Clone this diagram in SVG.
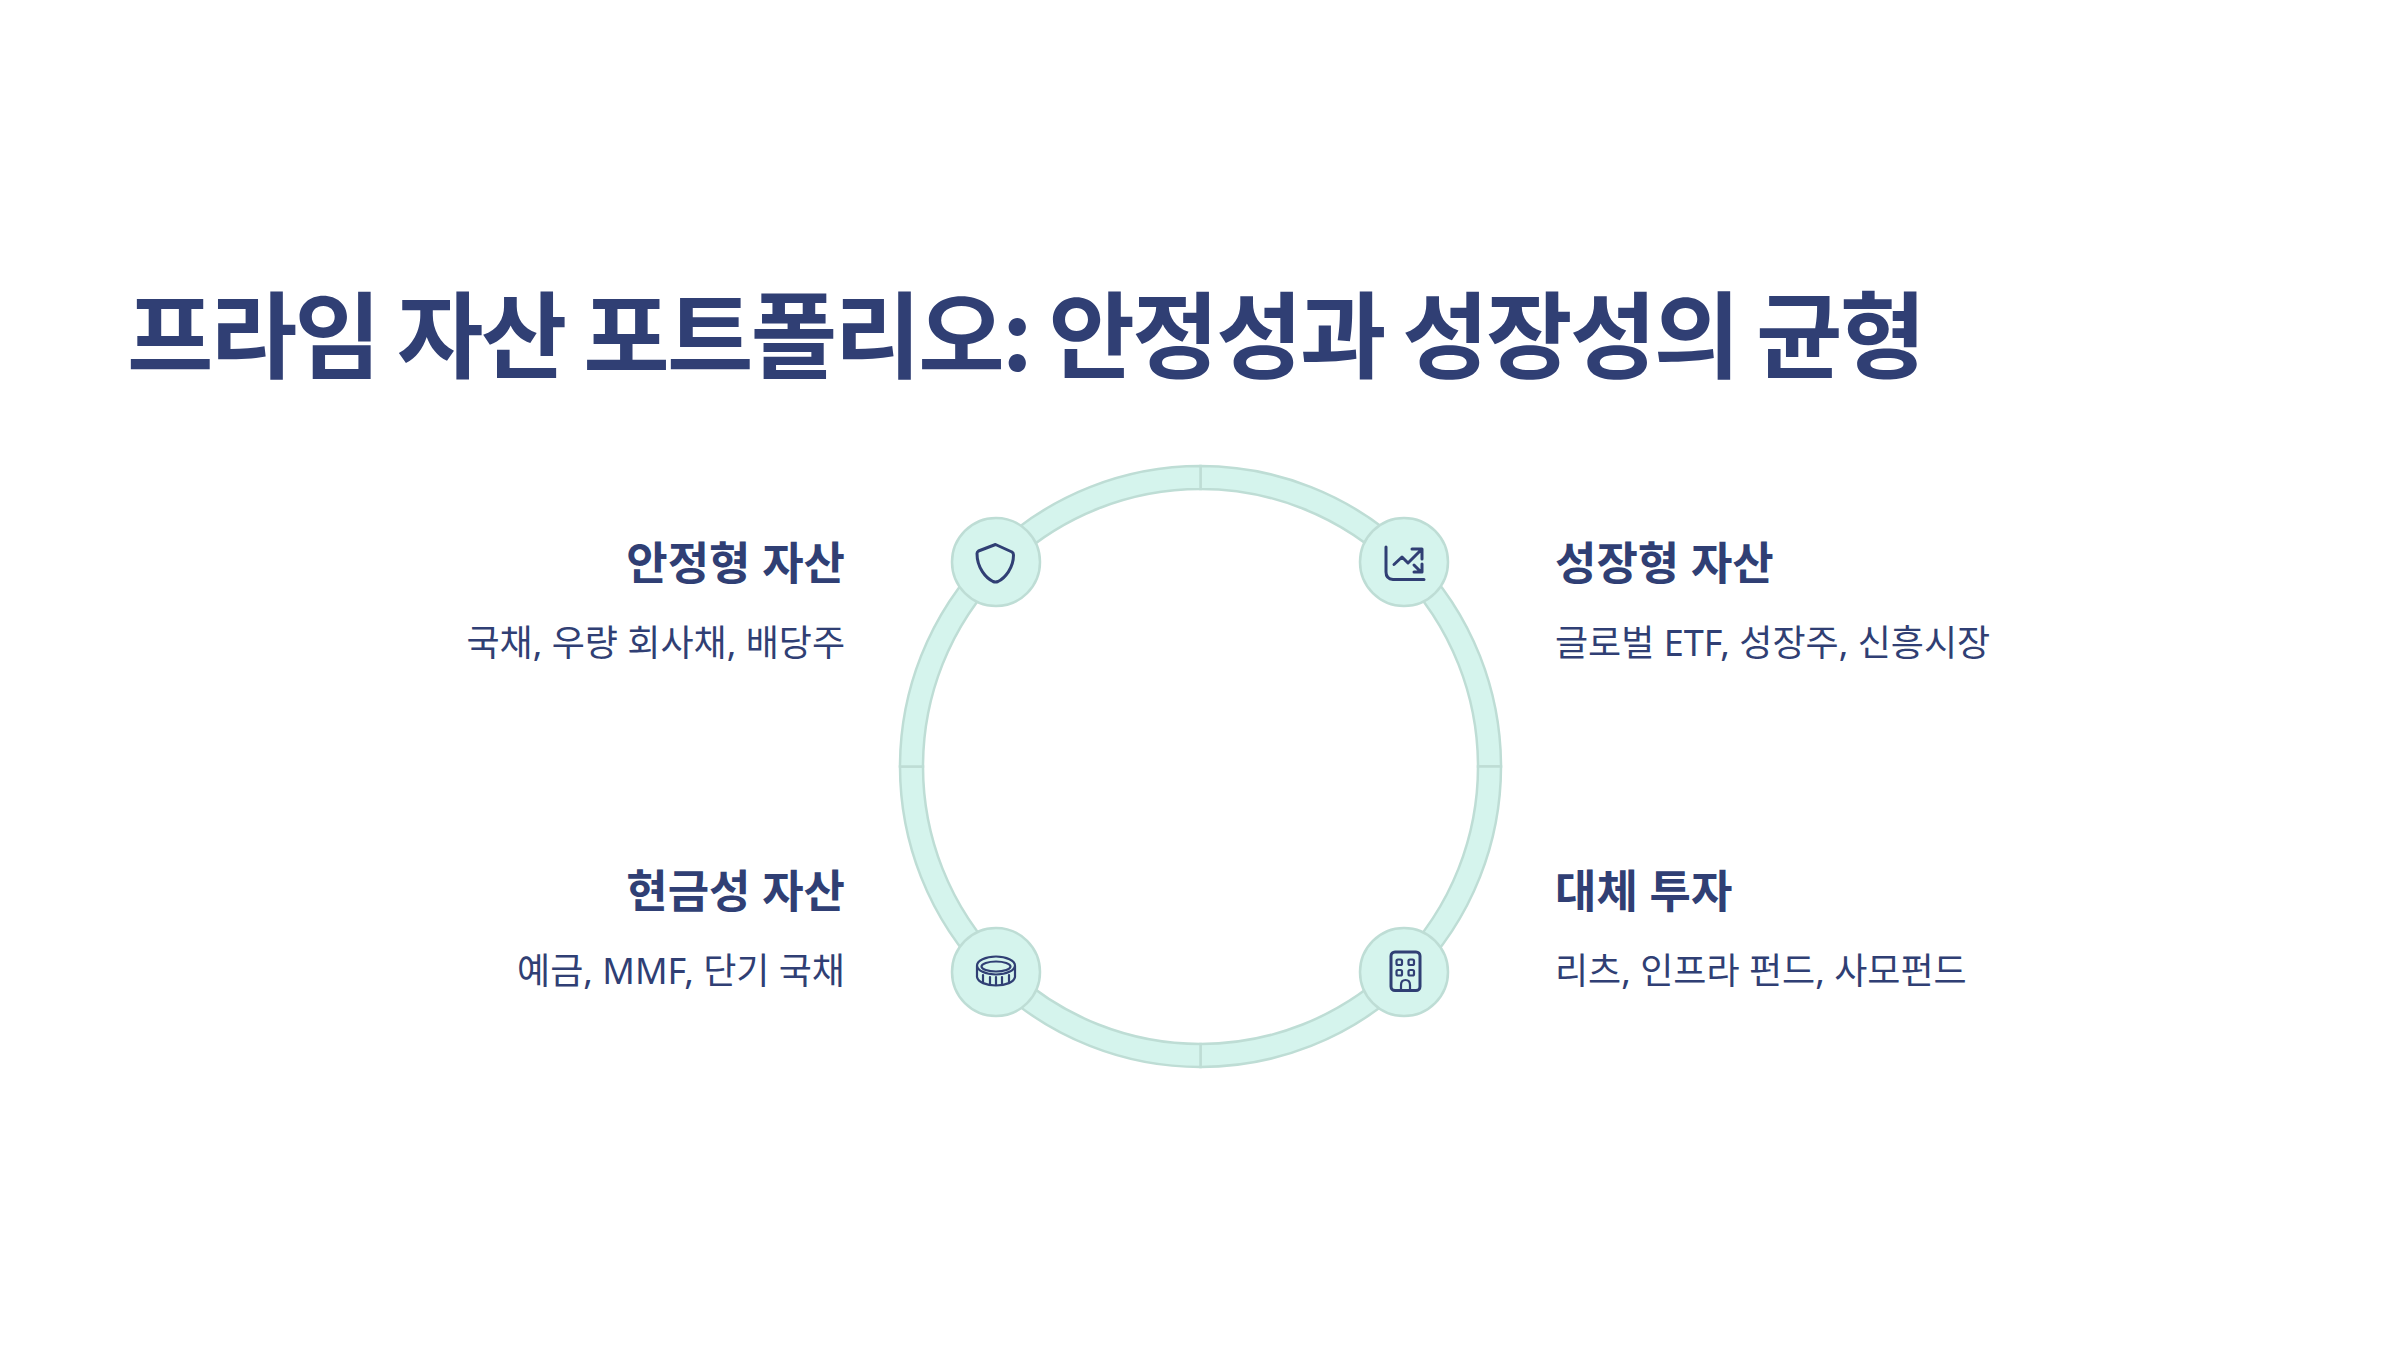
<svg xmlns="http://www.w3.org/2000/svg" width="2400" height="1350" viewBox="0 0 2400 1350">
<style>
text{font-family:"Noto Sans","Noto Sans CJK KR",sans-serif;fill:#303F74}
.t{font-family:"Noto Sans CJK KR",sans-serif;font-size:94px;font-weight:700;letter-spacing:-2.700px}
.h{font-size:45px;font-weight:700}
.s{font-size:36px;font-weight:400}
.e{text-anchor:end}
.seg{fill:#D5F4ED;stroke:#BEDDD5;stroke-width:2.500}
.n{fill:#D5F4ED;stroke:#BEDDD5;stroke-width:2.500}
.i{fill:none;stroke:#303F74;stroke-width:3;stroke-linecap:round;stroke-linejoin:round}
.c{fill:none;stroke:#303F74;stroke-width:2.200;stroke-linecap:round;stroke-linejoin:round}
</style>
<rect width="2400" height="1350" fill="#fff"/>
<text class="t" x="127" y="371">프라임 자산 포트폴리오: 안정성과 성장성의 균형</text>
<g id="ring">
<path class="seg" d="M1200.5 466A300.500 300.500 0 0 1 1501 766.500H1478A277.500 277.500 0 0 0 1200.500 489Z"/>
<path class="seg" d="M1501 766.500A300.500 300.500 0 0 1 1200.500 1067V1044A277.500 277.500 0 0 0 1478 766.500Z"/>
<path class="seg" d="M1200.500 1067A300.500 300.500 0 0 1 900 766.500H923A277.500 277.500 0 0 0 1200.500 1044Z"/>
<path class="seg" d="M900 766.500A300.500 300.500 0 0 1 1200.500 466V489A277.500 277.500 0 0 0 923 766.500Z"/>
</g>
<g id="node-stable">
<circle class="n" cx="996" cy="562" r="44"/>
<path class="i" d="M995.500 544.500L1012 552Q1013.500 553 1013.500 555C1013.500 568 1005 578 998 581.500Q995.500 582.500 993 581.500C986 578 977 568 977 553.500Q977 552 978.500 551Z"/>
<text class="h e" x="845" y="580">안정형 자산</text>
<text class="s e" x="845" y="656">국채, 우량 회사채, 배당주</text>
</g>
<g id="node-growth">
<circle class="n" cx="1404" cy="562" r="44"/>
<path class="i" d="M1386 547V572Q1386 579 1393 579.500H1424M1394 564.500L1402 557L1408 563L1421 550M1412 549H1422V559M1414 565L1421 572M1414 572H1422V564"/>
<text class="h" x="1555" y="580">성장형 자산</text>
<text class="s" x="1555" y="656">글로벌 ETF, 성장주, 신흥시장</text>
</g>
<g id="node-cash">
<circle class="n" cx="996" cy="972" r="44"/>
<ellipse class="c" cx="996" cy="965.500" rx="19" ry="9"/>
<ellipse class="c" cx="996" cy="966.500" rx="14.500" ry="5"/>
<path class="c" d="M977 966V977C978 982 986 985.500 996 985.500C1006 985.500 1014 982 1015 977V966M983 975V983M990 977V985M996 977V985M1002 977V985M1009 975V983"/>
<text class="h e" x="845" y="908">현금성 자산</text>
<text class="s e" x="845" y="984">예금, MMF, 단기 국채</text>
</g>
<g id="node-alt">
<circle class="n" cx="1404" cy="972" r="44"/>
<rect class="i" x="1391" y="952" width="29" height="38.500" rx="4"/>
<rect class="c" x="1396.500" y="959.500" width="5.500" height="5.500" rx="1.500"/>
<rect class="c" x="1408.500" y="959.500" width="5.500" height="5.500" rx="1.500"/>
<rect class="c" x="1396.500" y="970" width="5.500" height="5.500" rx="1.500"/>
<rect class="c" x="1408.500" y="970" width="5.500" height="5.500" rx="1.500"/>
<path class="c" d="M1401 990V985Q1401 980 1405.500 980Q1410 980 1410 985V990"/>
<text class="h" x="1555" y="908">대체 투자</text>
<text class="s" x="1555" y="984">리츠, 인프라 펀드, 사모펀드</text>
</g>
</svg>
